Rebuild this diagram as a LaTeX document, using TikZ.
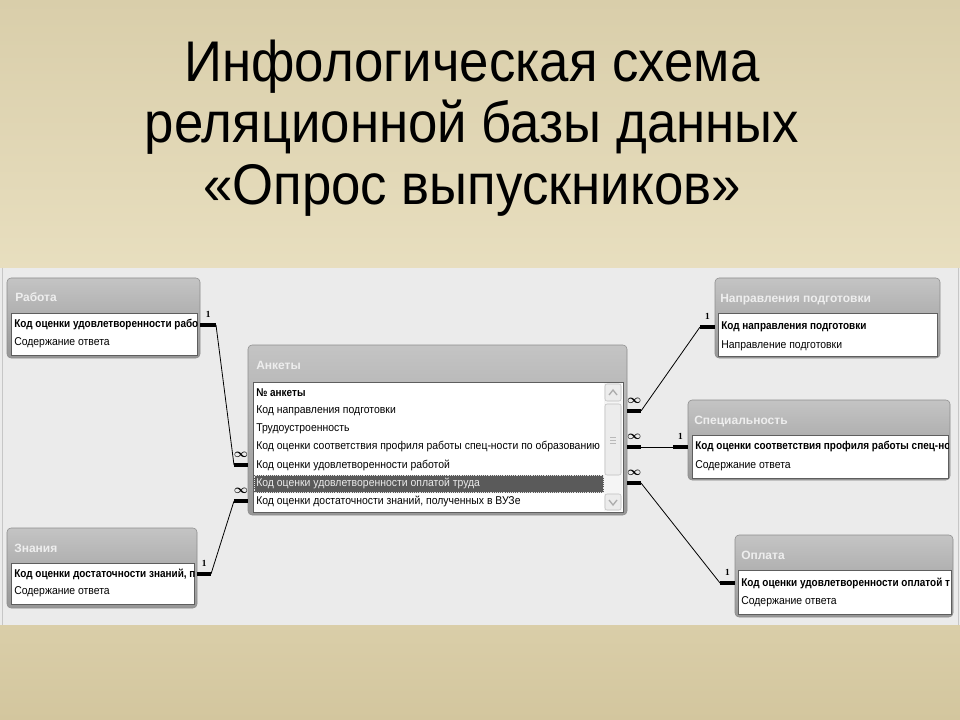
\documentclass[tikz,border=0pt]{standalone}
\usepackage{fontspec}
\setmainfont{Liberation Sans}
\newfontfamily\headfont[FakeStretch=0.92]{Liberation Sans}
\newfontfamily\rowfont[FakeStretch=0.92]{Liberation Sans}
\newfontfamily\keyfont[FakeStretch=0.88]{Liberation Sans Bold}
\newfontfamily\numfont{Liberation Serif}
\usetikzlibrary{fit}

\definecolor{bgtop}{HTML}{D9CEAA}
\definecolor{bgmid}{HTML}{EDE4C6}
\definecolor{bgbot}{HTML}{D3C69E}
\definecolor{panel}{HTML}{EBEBEB}
\definecolor{wintop}{HTML}{C4C4C4}
\definecolor{winbot}{HTML}{979797}
\definecolor{winedge}{HTML}{8C8C8C}
\definecolor{titletext}{HTML}{EEEEEE}
\definecolor{listedge}{HTML}{5E5E5E}
\definecolor{selrow}{HTML}{5A5A5A}

\begin{document}
\begin{tikzpicture}[x=0.75pt, y=-0.75pt,
    win/.style={draw=winedge, rounded corners=3pt, top color=wintop, bottom color=winbot, inner sep=0pt},
    list/.style={draw=listedge, fill=white, inner sep=0pt},
    wintitle/.style={anchor=west, inner sep=0pt, text=titletext, font=\bfseries\fontsize{9}{11}\selectfont},
    row/.style={anchor=west, inner sep=0pt, font=\rowfont\fontsize{8.5}{10}\selectfont},
    keyrow/.style={row, font=\keyfont\fontsize{8.5}{10}\selectfont},
    bar/.style={line width=3pt},
    link/.style={line width=0.6pt},
    one/.style={inner sep=0pt, font=\numfont\bfseries\fontsize{7}{8}\selectfont},
    many/.style={inner sep=0pt, font=\boldmath\fontsize{9}{10}\selectfont}
]
\useasboundingbox (0,0) rectangle (960,720);
\fill[top color=bgtop, bottom color=bgbot, middle color=bgmid] (0,0) rectangle (960,720);

\node[align=center, font=\headfont\fontsize{43}{46}\selectfont] (head) at (472,128)
    {Инфологическая схема\\реляционной базы данных\\«Опрос выпускников»};

% schema panel
\fill[panel] (0,268) rectangle (960,625);
\draw[gray!45] (2,268) -- (2,625) (958,268) -- (958,625);

% Работа
\node[win, fit={(7,278) (200,358)}] (rab) {};
\node[wintitle] (rab-t) at (15,297) {Работа};
\node[list, fit={(11,313) (197,355)}] (rab-l) {};
\begin{scope}
\clip (rab-l.north west) rectangle (rab-l.south east);
\node[keyrow] (rab1) at (14,325) {Код оценки удовлетворенности рабо};
\node[row] (rab2) at (14,343) {Содержание ответа};
\end{scope}

% Знания
\node[win, fit={(7,528) (197,608)}] (zn) {};
\node[wintitle] (zn-t) at (14,548) {Знания};
\node[list, fit={(11,563) (194,604)}] (zn-l) {};
\begin{scope}
\clip (zn-l.north west) rectangle (zn-l.south east);
\node[keyrow] (zn1) at (14,574) {Код оценки достаточности знаний, п};
\node[row] (zn2) at (14,592) {Содержание ответа};
\end{scope}

% Анкеты
\node[win, fit={(248,345) (627,515)}] (ank) {};
\node[wintitle] (ank-t) at (256,365) {Анкеты};
\node[list, fit={(253,382) (623,512)}] (ank-l) {};
\fill[selrow] (254,475) rectangle (604,493);
\draw[gray!20, densely dotted] (254.5,475.5) rectangle (603.5,492.5);
\begin{scope}
\clip (ank-l.north west) rectangle (604,512);
\node[keyrow] (ank1) at (256,393) {№ анкеты};
\node[row] (ank2) at (256,411) {Код направления подготовки};
\node[row] (ank3) at (256,429) {Трудоустроенность};
\node[row] (ank4) at (256,447) {Код оценки соответствия профиля работы спец-ности по образованию};
\node[row] (ank5) at (256,465) {Код оценки удовлетворенности работой};
\node[row, text=gray!15] (ank6) at (256,483) {Код оценки удовлетворенности оплатой труда};
\node[row] (ank7) at (256,501) {Код оценки достаточности знаний, полученных в ВУЗе};
\end{scope}
% scroll bar
\fill[gray!8] (604,383) rectangle (622,511);
\draw[gray!50, fill=gray!15, rounded corners=1.5pt] (605,384) rectangle (621,401);
\draw[gray!50, fill=gray!15, rounded corners=1.5pt] (605,404) rectangle (621,475);
\draw[gray!50, fill=gray!15, rounded corners=1.5pt] (605,494) rectangle (621,510);
\draw[gray!65, line width=1pt] (609,395) -- (613,390) -- (617,395);
\draw[gray!65, line width=1pt] (609,500) -- (613,505) -- (617,500);
\draw[gray!55] (610,437) -- (616,437) (610,440) -- (616,440) (610,443) -- (616,443);

% Направления подготовки
\node[win, fit={(715,278) (940,358)}] (nap) {};
\node[wintitle] (nap-t) at (720,300) {Направления подготовки};
\node[list, fit={(718,313) (937,356)}] (nap-l) {};
\node[keyrow] (nap1) at (721,327) {Код направления подготовки};
\node[row] (nap2) at (721,346) {Направление подготовки};

% Специальность
\node[win, fit={(688,400) (950,480)}] (spec) {};
\node[wintitle] (spec-t) at (694,422) {Специальность};
\node[list, fit={(692,435) (948,478)}] (spec-l) {};
\begin{scope}
\clip (spec-l.north west) rectangle (spec-l.south east);
\node[keyrow] (spec1) at (695,447) {Код оценки соответствия профиля работы спец-но};
\node[row] (spec2) at (695,466) {Содержание ответа};
\end{scope}

% Оплата
\node[win, fit={(735,535) (953,617)}] (opl) {};
\node[wintitle] (opl-t) at (741,555) {Оплата};
\node[list, fit={(738,570) (951,614)}] (opl-l) {};
\begin{scope}
\clip (opl-l.north west) rectangle (opl-l.south east);
\node[keyrow] (opl1) at (741,583) {Код оценки удовлетворенности оплатой т};
\node[row] (opl2) at (741,602) {Содержание ответа};
\end{scope}

% links
\coordinate (rab-k) at (216,325);
\coordinate (zn-k) at (211,574);
\coordinate (nap-k) at (700,327);
\coordinate (spec-k) at (673,447);
\coordinate (opl-k) at (720,583);
\coordinate (ank-k5) at (234,465);
\coordinate (ank-k7) at (234,501);
\coordinate (ank-k2) at (641,411);
\coordinate (ank-k4) at (641,447);
\coordinate (ank-k6) at (641,483);

\draw[bar] (rab.east |- rab1) -- (rab-k) node[one, midway, above=4pt] {1};
\draw[link] (rab-k) -- (ank-k5);
\draw[bar] (ank-k5) -- (ank.west |- ank5) node[many, midway, above=4pt] {$\infty$};

\draw[bar] (zn.east |- zn1) -- (zn-k) node[one, midway, above=4pt] {1};
\draw[link] (zn-k) -- (ank-k7);
\draw[bar] (ank-k7) -- (ank.west |- ank7) node[many, midway, above=4pt] {$\infty$};

\draw[bar] (ank.east |- ank2) -- (ank-k2) node[many, midway, above=4pt] {$\infty$};
\draw[link] (ank-k2) -- (nap-k);
\draw[bar] (nap-k) -- (nap.west |- nap1) node[one, midway, above=4pt] {1};

\draw[bar] (ank.east |- ank4) -- (ank-k4) node[many, midway, above=4pt] {$\infty$};
\draw[link] (ank-k4) -- (spec-k);
\draw[bar] (spec-k) -- (spec.west |- spec1) node[one, midway, above=4pt] {1};

\draw[bar] (ank.east |- ank6) -- (ank-k6) node[many, midway, above=4pt] {$\infty$};
\draw[link] (ank-k6) -- (opl-k);
\draw[bar] (opl-k) -- (opl.west |- opl1) node[one, midway, above=4pt] {1};
\end{tikzpicture}
\end{document}
